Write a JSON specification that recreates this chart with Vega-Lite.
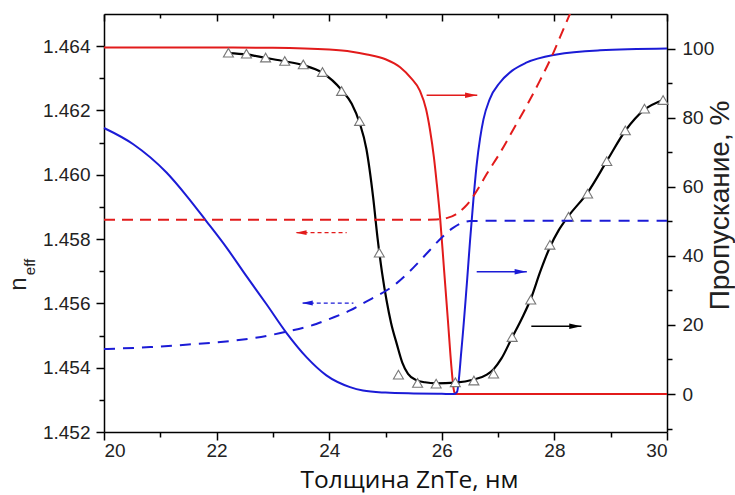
{
  "$schema": "https://vega.github.io/schema/vega-lite/v6.json",
  "width": 563,
  "height": 418,
  "autosize": {"type": "none"},
  "padding": {"left": 104, "top": 14, "right": 68, "bottom": 63},
  "background": "white",
  "config": {
    "view": {"stroke": null},
    "axis": {
      "grid": false,
      "domainColor": "#000",
      "domainWidth": 1.5,
      "tickColor": "#000",
      "tickWidth": 1.5,
      "labelFont": "Liberation Sans",
      "labelFontSize": 19,
      "labelColor": "#222",
      "titleFont": "Liberation Sans",
      "titleFontWeight": "normal",
      "titleColor": "#222"
    }
  },
  "datasets": {
    "redT": [{"x":20,"y":100.3},{"x":22,"y":100.3},{"x":23,"y":100.2},{"x":24,"y":99.7},{"x":24.4,"y":99.1},{"x":24.67,"y":98.3},{"x":25,"y":96.9},{"x":25.26,"y":94.6},{"x":25.45,"y":91.5},{"x":25.61,"y":87.8},{"x":25.72,"y":82.5},{"x":25.79,"y":76.5},{"x":25.86,"y":68.5},{"x":25.91,"y":61},{"x":25.97,"y":51},{"x":26.04,"y":36},{"x":26.11,"y":21},{"x":26.17,"y":8},{"x":26.21,"y":1.5},{"x":26.24,"y":0},{"x":30,"y":0}],
    "blueT": [{"x":20,"y":77},{"x":20.52,"y":72.3},{"x":21.11,"y":64.1},{"x":21.47,"y":57.3},{"x":21.82,"y":50},{"x":22.18,"y":42.3},{"x":22.53,"y":34.1},{"x":22.89,"y":25.9},{"x":23.24,"y":17.7},{"x":23.6,"y":10.6},{"x":23.95,"y":5.4},{"x":24.37,"y":2},{"x":24.6,"y":1},{"x":25,"y":0.4},{"x":25.5,"y":0.15},{"x":26,"y":0.05},{"x":26.22,"y":0},{"x":26.27,"y":0.6},{"x":26.35,"y":13},{"x":26.45,"y":33},{"x":26.5,"y":44},{"x":26.56,"y":56},{"x":26.62,"y":66.5},{"x":26.68,"y":74},{"x":26.74,"y":79.5},{"x":26.85,"y":85.3},{"x":27.03,"y":90.1},{"x":27.25,"y":93.6},{"x":27.5,"y":95.9},{"x":28.04,"y":98.3},{"x":28.81,"y":99.5},{"x":30,"y":100}],
    "blackT": [{"x":22.21,"y":98.7},{"x":22.53,"y":98.3},{"x":22.87,"y":97.3},{"x":23.21,"y":96.3},{"x":23.54,"y":95.2},{"x":23.88,"y":93},{"x":24.22,"y":88},{"x":24.4,"y":84},{"x":24.54,"y":78.5},{"x":24.66,"y":71},{"x":24.78,"y":57},{"x":24.86,"y":45},{"x":24.94,"y":35},{"x":25.02,"y":27},{"x":25.1,"y":20.5},{"x":25.2,"y":14.5},{"x":25.3,"y":9},{"x":25.4,"y":5.8},{"x":25.55,"y":4},{"x":25.7,"y":3.4},{"x":25.9,"y":3.1},{"x":26.24,"y":3.3},{"x":26.57,"y":4.2},{"x":26.8,"y":5.6},{"x":26.92,"y":7.2},{"x":27.06,"y":10.3},{"x":27.25,"y":16.4},{"x":27.42,"y":21.8},{"x":27.58,"y":27.5},{"x":27.75,"y":35.5},{"x":27.92,"y":42.5},{"x":28.08,"y":47.5},{"x":28.25,"y":51.5},{"x":28.59,"y":58.3},{"x":28.93,"y":67.4},{"x":29.26,"y":76.2},{"x":29.6,"y":82.3},{"x":29.93,"y":85.1}],
    "markers": [{"x":22.21,"y":98.8},{"x":22.53,"y":98.5},{"x":22.87,"y":97.4},{"x":23.21,"y":96.4},{"x":23.54,"y":95.4},{"x":23.88,"y":93.2},{"x":24.22,"y":87.7},{"x":24.54,"y":79.0},{"x":24.89,"y":40.9},{"x":25.23,"y":5.6},{"x":25.57,"y":3.2},{"x":25.9,"y":3.0},{"x":26.24,"y":3.4},{"x":26.57,"y":3.9},{"x":26.92,"y":5.9},{"x":27.25,"y":16.5},{"x":27.58,"y":27.3},{"x":27.92,"y":43.2},{"x":28.25,"y":51.3},{"x":28.59,"y":58.0},{"x":28.93,"y":67.4},{"x":29.26,"y":76.3},{"x":29.6,"y":82.6},{"x":29.93,"y":85.1}],
    "arrowsT": [{"x":25.73,"x2":26.63,"y":86.5,"c":"red"},{"x":26.62,"x2":27.51,"y":35.4,"c":"blue"},{"x":27.59,"x2":28.48,"y":19.6,"c":"black"}],
    "headsT": [{"x":26.52,"y":86.5,"c":"red"},{"x":27.4,"y":35.4,"c":"blue"},{"x":28.37,"y":19.6,"c":"black"}],
    "redN": [{"x":20,"y":1.4586},{"x":24,"y":1.4586},{"x":25.5,"y":1.4586},{"x":25.9,"y":1.45861},{"x":26.1,"y":1.45866},{"x":26.25,"y":1.45877},{"x":26.4,"y":1.45898},{"x":26.5,"y":1.45918},{"x":26.65,"y":1.45958},{"x":26.8,"y":1.46003},{"x":27.03,"y":1.46067},{"x":27.3,"y":1.4615},{"x":27.5,"y":1.46212},{"x":27.74,"y":1.46292},{"x":27.95,"y":1.46367},{"x":28.1,"y":1.46428},{"x":28.3,"y":1.4651}],
    "blueN": [{"x":20,"y":1.45458},{"x":20.82,"y":1.45464},{"x":21.5,"y":1.45472},{"x":22.3,"y":1.45484},{"x":22.89,"y":1.45499},{"x":23.24,"y":1.45512},{"x":23.77,"y":1.45536},{"x":24.01,"y":1.45552},{"x":24.37,"y":1.45578},{"x":24.6,"y":1.456},{"x":25.2,"y":1.45663},{"x":25.5,"y":1.45712},{"x":25.79,"y":1.45766},{"x":26,"y":1.45805},{"x":26.2,"y":1.45835},{"x":26.35,"y":1.4585},{"x":26.5,"y":1.45856},{"x":27,"y":1.45857},{"x":30,"y":1.45857}],
    "arrowsN": [{"x":23.42,"x2":24.31,"y":1.4582,"c":"red"},{"x":23.53,"x2":24.43,"y":1.45601,"c":"blue"}],
    "headsN": [{"x":23.5,"y":1.4582,"c":"red"},{"x":23.61,"y":1.45601,"c":"blue"}]
  },
  "layer": [
    {
      "encoding": {
        "x": {"field": "x", "type": "quantitative", "scale": {"domain": [20, 30], "nice": false, "zero": false},
          "axis": {"orient": "bottom", "values": [20,21,22,23,24,25,26,27,28,29,30], "format": "d",
            "labelExpr": "datum.value % 2 === 0 ? datum.label : ''",
            "tickSize": {"condition": {"test": "datum.value % 2 === 0", "value": 8}, "value": 5},
            "labelPadding": 1,
            "title": "Толщина ZnTe, нм", "titleFont": "Open Sans", "titleFontSize": 24.5, "titleColor": "#111",
            "titleX": 305, "titleY": 55.5, "titleAlign": "center", "titleBaseline": "alphabetic"}},
        "y": {"field": "y", "type": "quantitative", "scale": {"domain": [-11, 110], "nice": false, "zero": false},
          "axis": {"orient": "right", "values": [-10,0,10,20,30,40,50,60,70,80,90,100], "format": "d",
            "labelExpr": "datum.value % 20 === 0 ? datum.label : ''",
            "tickSize": {"condition": {"test": "datum.value % 20 === 0", "value": 8}, "value": 5},
            "labelPadding": 7,
            "title": "Пропускание, %", "titleFontSize": 28, "titleAngle": 270,
            "titleX": 61, "titleY": 191, "titleAlign": "center", "titleBaseline": "alphabetic"}}
      },
      "layer": [
        {"data": {"name": "redT"}, "mark": {"type": "line", "color": "#e21b1b", "strokeWidth": 2, "interpolate": "monotone"}},
        {"data": {"name": "blueT"}, "mark": {"type": "line", "color": "#1b1bd6", "strokeWidth": 2, "interpolate": "monotone"}},
        {"data": {"name": "blackT"}, "mark": {"type": "line", "color": "#000", "strokeWidth": 2.2, "interpolate": "monotone"}},
        {"data": {"name": "markers"}, "mark": {"type": "point", "shape": "triangle-up", "filled": true, "fill": "white", "stroke": "#777", "strokeWidth": 1.1, "size": 100, "opacity": 1}},
        {"data": {"name": "arrowsT"}, "mark": {"type": "rule", "strokeWidth": 1.5},
          "encoding": {"x2": {"field": "x2"},
            "color": {"field": "c", "type": "nominal", "scale": {"domain": ["red", "blue", "black"], "range": ["#e21b1b", "#1b1bd6", "#000"]}, "legend": null}}},
        {"data": {"name": "headsT"}, "mark": {"type": "point", "shape": "M-1,-0.45L1,0L-1,0.45Z", "filled": true, "size": 144, "opacity": 1, "strokeWidth": 0},
          "encoding": {"color": {"field": "c", "type": "nominal", "scale": {"domain": ["red", "blue", "black"], "range": ["#e21b1b", "#1b1bd6", "#000"]}, "legend": null}}}
      ]
    },
    {
      "encoding": {
        "x": {"field": "x", "type": "quantitative", "scale": {"domain": [20, 30], "nice": false, "zero": false}, "axis": null},
        "y": {"field": "y", "type": "quantitative", "scale": {"domain": [1.452, 1.465], "nice": false, "zero": false},
          "axis": {"orient": "left", "values": [1.452,1.453,1.454,1.455,1.456,1.457,1.458,1.459,1.46,1.461,1.462,1.463,1.464], "format": ".3f",
            "labelExpr": "round(datum.value*1000) % 2 === 0 ? datum.label : ''",
            "tickSize": {"condition": {"test": "round(datum.value*1000) % 2 === 0", "value": 8}, "value": 5},
            "labelPadding": 6,
            "title": "n", "titleFontSize": 24, "titleAngle": 270,
            "titleX": -79, "titleY": 269.5, "titleAlign": "center", "titleBaseline": "alphabetic"}}
      },
      "layer": [
        {"data": {"name": "redN"}, "mark": {"type": "line", "color": "#e21b1b", "strokeWidth": 2, "strokeDash": [11, 7], "interpolate": "monotone", "clip": true}},
        {"data": {"name": "blueN"}, "mark": {"type": "line", "color": "#1b1bd6", "strokeWidth": 2, "strokeDash": [11, 8], "interpolate": "monotone"}},
        {"data": {"name": "arrowsN"}, "mark": {"type": "rule", "strokeWidth": 1.2, "strokeDash": [4, 3]},
          "encoding": {"x2": {"field": "x2"},
            "color": {"field": "c", "type": "nominal", "scale": {"domain": ["red", "blue"], "range": ["#e21b1b", "#1b1bd6"]}, "legend": null}}},
        {"data": {"name": "headsN"}, "mark": {"type": "point", "shape": "M1,-0.45L-1,0L1,0.45Z", "filled": true, "size": 121, "opacity": 1, "strokeWidth": 0},
          "encoding": {"color": {"field": "c", "type": "nominal", "scale": {"domain": ["red", "blue"], "range": ["#e21b1b", "#1b1bd6"]}, "legend": null}}}
      ]
    },
    {
      "data": {"name": "blueN"},
      "mark": {"type": "point", "opacity": 0},
      "encoding": {
        "x": {"field": "x", "type": "quantitative", "scale": {"domain": [20, 30], "nice": false, "zero": false},
          "axis": {"orient": "top", "values": [20,21,22,23,24,25,26,27,28,29,30], "labels": false, "title": null,
            "tickSize": {"condition": {"test": "datum.value % 2 === 0", "value": -7}, "value": -4}}},
        "y": {"field": "y", "type": "quantitative", "scale": {"domain": [1.452, 1.465], "nice": false, "zero": false},
          "axis": {"orient": "left", "labels": false, "ticks": false, "domain": false,
            "title": "eff", "titleFontSize": 15, "titleAngle": 270,
            "titleX": -70, "titleY": 252.5, "titleAlign": "center", "titleBaseline": "alphabetic"}}
      }
    }
  ],
  "resolve": {
    "scale": {"x": "independent", "y": "independent", "color": "independent"},
    "axis": {"x": "independent", "y": "independent"}
  }
}
